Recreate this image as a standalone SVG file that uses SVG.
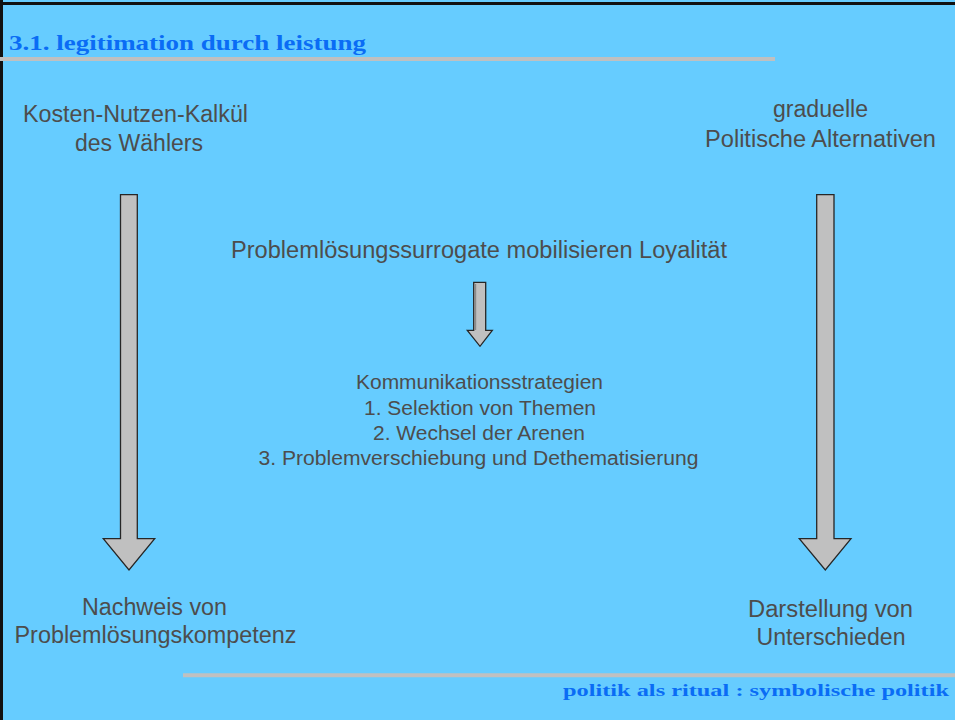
<svg xmlns="http://www.w3.org/2000/svg" width="955" height="720" viewBox="0 0 955 720">
<style>
.t{font-family:"Liberation Sans",Arial,sans-serif;fill:#4d4d4d;text-anchor:middle}
.big{font-size:23px}
.mid{font-size:19.5px}
.hd{font-family:"Liberation Serif","Times New Roman",serif;font-weight:bold;fill:#0a6cf5}
.arr{fill:#c0c0c0;stroke:#262626;stroke-width:1.3;stroke-linejoin:miter}
.rule{stroke:#c0c0c0;stroke-width:4}
</style>
<rect x="0" y="0" width="955" height="720" fill="#66ccff"/>
<line x1="0" y1="3.5" x2="955" y2="3.5" stroke="#111" stroke-width="3"/>
<line x1="1.5" y1="0" x2="1.5" y2="720" stroke="#111" stroke-width="3"/>
<g id="header">
<text class="hd" x="9" y="50" font-size="21.5" textLength="357" lengthAdjust="spacingAndGlyphs">3.1. legitimation durch leistung</text>
<line class="rule" x1="0" y1="59" x2="775" y2="59"/>
</g>
<g id="footer">
<line class="rule" x1="183" y1="675.3" x2="955" y2="675.3"/>
<text class="hd" x="563" y="696" font-size="17.5" textLength="386" lengthAdjust="spacingAndGlyphs">politik als ritual : symbolische politik</text>
</g>
<g id="connectors">
<polygon class="arr" points="120.5,194.7 137.3,194.7 137.3,538.7 154.7,538.7 129,570 103.3,538.7 120.5,538.7"/>
<polygon class="arr" points="816.7,194.7 834,194.7 834,538.7 851,538.7 825.3,570 799.3,538.7 816.7,538.7"/>
<polygon class="arr" points="473.7,282.3 485.7,282.3 485.7,330.3 492.3,330.3 480,346.3 467.3,330.3 473.7,330.3"/>
<line x1="475.2" y1="284" x2="475.2" y2="330" stroke="#8a8a8a" stroke-width="2"/>
</g>
<g id="node-kosten">
<text class="t big" x="135.5" y="122" textLength="225" lengthAdjust="spacingAndGlyphs">Kosten-Nutzen-Kalkül</text>
<text class="t big" x="139" y="151" textLength="128" lengthAdjust="spacingAndGlyphs">des Wählers</text>
</g>
<g id="node-graduelle">
<text class="t big" x="820.5" y="117" textLength="95" lengthAdjust="spacingAndGlyphs">graduelle</text>
<text class="t big" x="820.5" y="147" textLength="231" lengthAdjust="spacingAndGlyphs">Politische Alternativen</text>
</g>
<g id="node-surrogate">
<text class="t big" x="479" y="258" textLength="496" lengthAdjust="spacingAndGlyphs">Problemlösungssurrogate mobilisieren Loyalität</text>
</g>
<g id="node-strategien">
<text class="t mid" x="479.5" y="389" textLength="247" lengthAdjust="spacingAndGlyphs">Kommunikationsstrategien</text>
<text class="t mid" x="480" y="415" textLength="232" lengthAdjust="spacingAndGlyphs">1. Selektion von Themen</text>
<text class="t mid" x="479" y="440" textLength="212" lengthAdjust="spacingAndGlyphs">2. Wechsel der Arenen</text>
<text class="t mid" x="478.5" y="465" textLength="440" lengthAdjust="spacingAndGlyphs">3. Problemverschiebung und Dethematisierung</text>
</g>
<g id="node-nachweis">
<text class="t big" x="154.5" y="615" textLength="145" lengthAdjust="spacingAndGlyphs">Nachweis von</text>
<text class="t big" x="155.5" y="643" textLength="282" lengthAdjust="spacingAndGlyphs">Problemlösungskompetenz</text>
</g>
<g id="node-darstellung">
<text class="t big" x="830.5" y="617" textLength="165" lengthAdjust="spacingAndGlyphs">Darstellung von</text>
<text class="t big" x="831" y="645" textLength="149" lengthAdjust="spacingAndGlyphs">Unterschieden</text>
</g>
</svg>
